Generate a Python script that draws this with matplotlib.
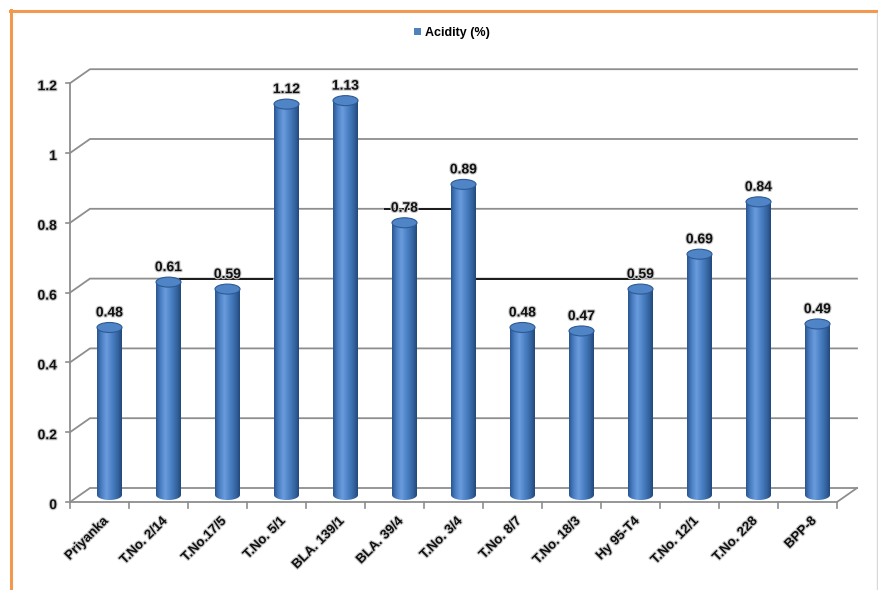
import numpy as np
import matplotlib
matplotlib.use("Agg")
import matplotlib.pyplot as plt
from matplotlib.colors import LinearSegmentedColormap
from matplotlib.patches import Ellipse, Polygon, Patch
from matplotlib.lines import Line2D
import matplotlib.patheffects as pe

plt.rcParams['font.family'] = ['Liberation Sans', 'DejaVu Sans']

# acidity of each genotype
genotypes = ['Priyanka', 'T.No. 2/14', 'T.No.17/5', 'T.No. 5/1', 'BLA. 139/1', 'BLA. 39/4',
             'T.No. 3/4', 'T.No. 8/7', 'T.No. 18/3', 'Hy 95-T4', 'T.No. 12/1', 'T.No. 228', 'BPP-8']
acidity = [0.48, 0.61, 0.59, 1.12, 1.13, 0.78, 0.89, 0.48, 0.47, 0.59, 0.69, 0.84, 0.49]
yticks = [0, 0.2, 0.4, 0.6, 0.8, 1, 1.2]
ytick_labels = ['0', '0.2', '0.4', '0.6', '0.8', '1', '1.2']
series_name = 'Acidity (%)'

# gridline stretches that show up dark on the back wall: (level, x from, x to)
dark_grid = [(0.6, 1.86, 3.42), (0.6, 6.86, 9.66), (0.8, 5.34, 6.44)]

W, H = 879, 590
fig = plt.figure(figsize=(W / 100, H / 100), dpi=100)
ax = fig.add_axes([0, 0, 1, 1])
ax.axis('off')

# scale: 59 px per category, 349 px per unit, origin at (70, 502) px
px_x, px_y = 59.0, 349.0
x0_px, y0_px = 70.0, 502.0
n = len(genotypes)
dx, dy = 20 / px_x, 14 / px_y          # depth offset of the back wall
grid_col = '#8e8e8e'

# back wall gridlines
for g in yticks:
    ax.plot([0, dx, n + dx], [g, g + dy, g + dy], color=grid_col, lw=1.3, zorder=1)
for lev, xa, xb in dark_grid:
    ax.plot([xa, xb], [lev + dy, lev + dy], color='#1a1a1a', lw=1.4, zorder=1.5)

# floor + axes
ax.plot([0, n, n + dx], [0, 0, dy], color=grid_col, lw=1.3, zorder=1)
ax.plot([0, 0], [0, yticks[-1]], color=grid_col, lw=1.3, zorder=1)
for g in yticks:
    ax.plot([-4 / px_x, 0], [g, g], color=grid_col, lw=1.2, zorder=1)
for i in range(n + 1):
    ax.plot([i, i], [0, -6 / px_y], color=grid_col, lw=1.2, zorder=1)

shadow = [pe.withStroke(linewidth=1.6, foreground='#c8c8c8')]
for g, lab in zip(yticks, ytick_labels):
    ax.text(-13 / px_x, g - 3 / px_y, lab, ha='right', va='center', fontsize=10,
            fontweight='bold', color='#111111', path_effects=shadow)

# cylinders
body_cmap = LinearSegmentedColormap.from_list(
    'cyl', [(0, '#2a5690'), (0.18, '#4b80c4'), (0.38, '#6a9cdc'),
            (0.6, '#4c82c6'), (0.85, '#33649f'), (1, '#23497c')])
grad = np.linspace(0, 1, 64)[None, :]
bw = 25 / px_x
eh = 10 / px_y
t = np.linspace(np.pi, 2 * np.pi, 60)
for i, v in enumerate(acidity):
    cx = i + 0.5 + dx / 2
    yb = dy / 2
    yt = v + dy / 2
    verts = [(cx - bw / 2, yt)]
    verts += list(zip(cx + bw / 2 * np.cos(t), yb + eh / 2 * np.sin(t)))
    verts += [(cx + bw / 2, yt)]
    clip = Polygon(verts, closed=True, transform=ax.transData, facecolor='none', edgecolor='none')
    ax.add_patch(clip)
    im = ax.imshow(grad, cmap=body_cmap, aspect='auto', interpolation='bilinear',
                   extent=[cx - bw / 2, cx + bw / 2, yb - eh, yt], zorder=3)
    im.set_clip_path(clip)
    ax.add_patch(Ellipse((cx, yt), bw, eh, facecolor='#4f84c6', edgecolor='#2d5a94',
                         lw=0.8, zorder=4))
    ax.text(cx, yt + 15 / px_y, f'{v:.2f}', ha='center', va='center', fontsize=10,
            fontweight='bold', color='#111111', path_effects=shadow, zorder=5)

# category labels
for i, name in enumerate(genotypes):
    ax.text(i + 0.55, -13 / px_y, name, ha='right', va='top', rotation=45,
            rotation_mode='anchor', fontsize=9.5, fontweight='bold', color='#111111',
            path_effects=shadow)

# legend
leg = ax.legend(handles=[Patch(facecolor='#4f81bd', edgecolor='none', label=series_name)],
                loc='center', bbox_to_anchor=(452 / W, 1 - 33 / H), frameon=False,
                handlelength=0.55, handleheight=0.55, handletextpad=0.3,
                prop={'size': 9, 'weight': 'bold'})

ax.set_xlim(-x0_px / px_x, (W - x0_px) / px_x)
ax.set_ylim((y0_px - H) / px_y, y0_px / px_y)

# frame around the chart
orange = '#f2994f'
fig.add_artist(Line2D([10 / W, 1], [1 - 11 / H, 1 - 11 / H], color=orange, lw=2.2))
fig.add_artist(Line2D([11 / W, 11 / W], [0, 1 - 10 / H], color=orange, lw=2.2))
fig.add_artist(Line2D([877 / W, 877 / W], [0, 1 - 13 / H], color='#d9d9d9', lw=1))

fig.savefig('out.png', dpi=100)
